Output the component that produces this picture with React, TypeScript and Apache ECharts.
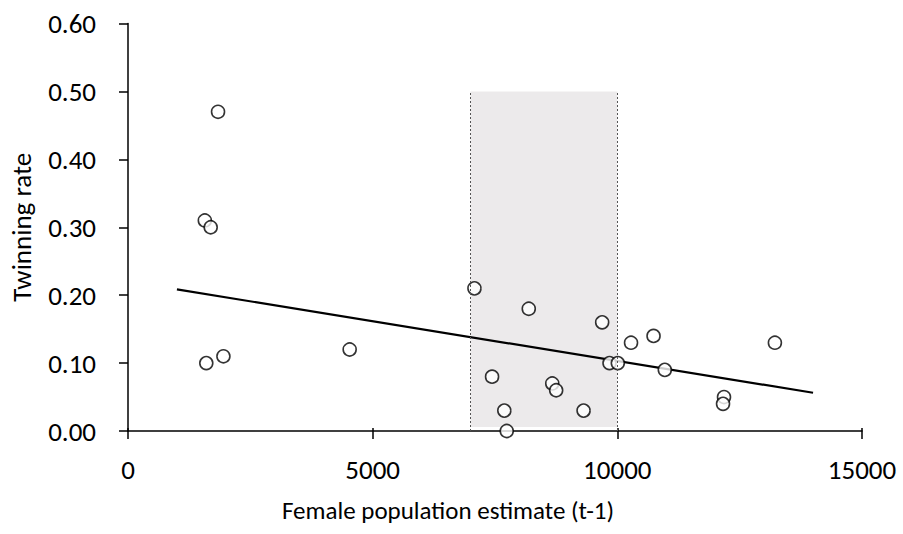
import React, { useEffect, useRef } from "react";
import * as echarts from "echarts";

// Observed data (Female population estimate t-1, Twinning rate)
const popEstimate = [1840, 1570, 1690, 1600, 1950, 4530, 7080, 8190, 9690, 7440, 8670, 8750, 7690, 9310, 7740, 9840, 10010, 10280, 10740, 10970, 13220, 12180, 12160];
const twinRate = [0.47, 0.31, 0.3, 0.1, 0.11, 0.12, 0.21, 0.18, 0.16, 0.08, 0.07, 0.06, 0.03, 0.03, 0.0, 0.1, 0.1, 0.13, 0.14, 0.09, 0.13, 0.05, 0.04];

// Regression line end points
const trendX = [1000, 14000];
const trendY = [0.2085, 0.0563];

// Highlighted range
const rangeX = [7000, 10000];
const rangeY = [0.006, 0.5];

const xTicks = [0, 5000, 10000, 15000];
const yTicks = [0, 0.1, 0.2, 0.3, 0.4, 0.5, 0.6];

const FONT = "Carlito, Calibri, Lato, sans-serif";

export default function App() {
  const ref = useRef<HTMLDivElement>(null);
  useEffect(() => {
    if (!ref.current) return;
    const chart = echarts.init(ref.current, undefined, { renderer: "svg" });
    const pts = popEstimate.map((x, i) => [x, twinRate[i]]);
    const behind = pts.filter((p) => p[0] < rangeX[1]);
    const front = pts.filter((p) => p[0] >= rangeX[1]);
    const markerStyle = { color: "#ffffff", borderColor: "#000000", borderWidth: 1.6 };
    chart.setOption({
      animation: false,
      backgroundColor: "#ffffff",
      grid: { left: 128, top: 23.5, width: 734, height: 407.5 },
      xAxis: [
        {
          type: "value",
          min: xTicks[0],
          max: xTicks[xTicks.length - 1],
          interval: 5000,
          name: "Female population estimate (t-1)",
          nameLocation: "middle",
          nameGap: 67,
          nameTextStyle: { fontFamily: FONT, fontSize: 25, color: "#000", padding: [0, 94, 0, 0] },
          axisLine: { lineStyle: { color: "#000", width: 1.5 } },
          axisTick: { show: true, length: 8, lineStyle: { color: "#000", width: 1.5 } },
          axisLabel: { fontFamily: FONT, fontSize: 27, color: "#000", margin: 25, formatter: (v: number) => String(v) },
          splitLine: { show: false },
        },
        {
          type: "value",
          position: "bottom",
          min: xTicks[0],
          max: xTicks[xTicks.length - 1],
          interval: 5000,
          axisLine: { show: false },
          axisTick: { show: true, inside: true, length: 3, lineStyle: { color: "#000", width: 1.5 } },
          axisLabel: { show: false },
          splitLine: { show: false },
        },
      ],
      yAxis: {
        type: "value",
        min: yTicks[0],
        max: yTicks[yTicks.length - 1],
        interval: 0.1,
        name: "Twinning rate",
        nameLocation: "middle",
        nameGap: 93,
        nameTextStyle: { fontFamily: FONT, fontSize: 27, color: "#000" },
        axisLine: { show: true, lineStyle: { color: "#000", width: 1.5 } },
        axisTick: { show: true, length: 9, lineStyle: { color: "#000", width: 1.5 } },
        axisLabel: { fontFamily: FONT, fontSize: 27, color: "#000", margin: 32, formatter: (v: number) => v.toFixed(2) },
        splitLine: { show: false },
      },
      series: [
        {
          type: "line",
          data: trendX.map((x, i) => [x, trendY[i]]),
          symbol: "none",
          lineStyle: { color: "#000", width: 2.2 },
          z: 1,
        },
        {
          type: "scatter",
          data: behind,
          symbol: "circle",
          symbolSize: 13,
          itemStyle: markerStyle,
          z: 2,
        },
        {
          type: "scatter",
          data: [],
          z: 3,
          silent: true,
          markArea: {
            silent: true,
            itemStyle: { color: "rgba(200,196,198,0.35)" },
            data: [[{ coord: [rangeX[0], rangeY[0]] }, { coord: [rangeX[1], rangeY[1]] }]],
          },
          markLine: {
            silent: true,
            symbol: "none",
            label: { show: false },
            lineStyle: { color: "#555", type: [2, 2], width: 1 },
            data: rangeX.map((x) => [{ coord: [x, 0] }, { coord: [x, rangeY[1]] }]),
          },
        },
        {
          type: "scatter",
          data: front,
          symbol: "circle",
          symbolSize: 13,
          itemStyle: markerStyle,
          z: 4,
        },
      ],
    });
    return () => chart.dispose();
  }, []);
  return <div ref={ref} style={{ position: "fixed", left: 0, top: 0, width: 903, height: 534 }} />;
}
